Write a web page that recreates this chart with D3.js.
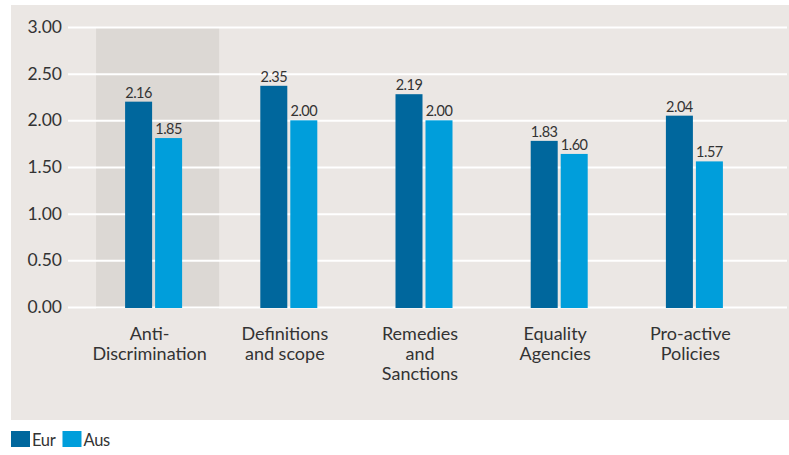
<!DOCTYPE html>
<html>
<head>
<meta charset="utf-8">
<script src="https://cdn.jsdelivr.net/npm/d3@7"></script>
<style>
  body { margin: 0; background: #fff; }
  svg text { font-family: Lato, "Noto Sans", sans-serif; fill: #333; }
</style>
</head>
<body>
<script>
// size variables
var width = 789, height = 455;

// data
var categories = [["Anti-", "Discrimination"], ["Definitions", "and scope"], ["Remedies", "and", "Sanctions"], ["Equality", "Agencies"], ["Pro-active", "Policies"]];
var series = ["Eur", "Aus"];
var eurLabels = ["2.16", "2.35", "2.19", "1.83", "2.04"];   // printed values
var ausLabels = ["1.85", "2.00", "2.00", "1.60", "1.57"];
var eurBars = [2.20, 2.37, 2.28, 1.78, 2.05];                // bar heights as drawn
var ausBars = [1.81, 2.00, 2.00, 1.64, 1.56];
var yTicks = [0, 0.5, 1, 1.5, 2, 2.5, 3];

var cols = { Eur: "#00679d", Aus: "#009edb" };

var svg = d3.select("body").append("svg").attr("width", width).attr("height", height);

// grey panel behind the chart
svg.append("rect").attr("x", 11).attr("y", 5).attr("width", 778).attr("height", 415).attr("fill", "#ebe7e4");

// scales
var y = d3.scaleLinear().domain([0, 3]).range([307, 27]);
var x0 = d3.scaleBand().domain(d3.range(categories.length)).range([86, 762]).paddingInner(0.09).paddingOuter(0.045);
var x1 = d3.scaleBand().domain(series).range([-28.5, 28.5]).paddingInner(0.1);

// highlight first category
svg.append("rect")
    .attr("x", x0(0) + 4)
    .attr("y", y(3) + 1)
    .attr("width", x0.bandwidth())
    .attr("height", y(0) - y(3) + 1)
    .attr("fill", "#dcd8d4");

// y axis with grid lines
var yAxis = svg.append("g")
    .attr("transform", "translate(68,0)")
    .call(d3.axisLeft(y).tickValues(yTicks).tickFormat(d3.format(".2f")).tickSize(-(787 - 68)).tickPadding(6));
yAxis.select(".domain").remove();
yAxis.selectAll(".tick line").attr("stroke", "#fff").attr("stroke-width", 2);
yAxis.selectAll(".tick text").attr("font-size", "17.5px").attr("fill", "#333").attr("font-family", "Lato, sans-serif");

// bars
var rows = categories.map(function(c, i) {
    return [
        { key: "Eur", i: i, val: eurBars[i], label: eurLabels[i] },
        { key: "Aus", i: i, val: ausBars[i], label: ausLabels[i] }
    ];
});

var groups = svg.selectAll(".grp").data(rows).join("g")
    .attr("class", "grp")
    .attr("transform", function(d, i) { return "translate(" + (x0(i) + x0.bandwidth() / 2) + ",0)"; });

groups.selectAll("rect").data(function(d) { return d; }).join("rect")
    .attr("x", function(d) { return x1(d.key); })
    .attr("y", function(d) { return y(d.val); })
    .attr("width", x1.bandwidth())
    .attr("height", function(d) { return y(0) - y(d.val) + 1; })
    .attr("fill", function(d) { return cols[d.key]; });

groups.selectAll("text.val").data(function(d) { return d; }).join("text")
    .attr("class", "val")
    .attr("x", function(d) { return x1(d.key) + x1.bandwidth() / 2; })
    .attr("y", function(d) { return y(d.val) - 4; })
    .attr("text-anchor", "middle")
    .attr("font-size", "14.5px")
    .attr("letter-spacing", "-0.5px")
    .text(function(d) { return d.label; });

// category labels
categories.forEach(function(lines, i) {
    var cx = x0(i) + x0.bandwidth() / 2 - 4;
    var t = svg.append("text")
        .attr("text-anchor", "middle")
        .attr("font-size", "18px")
        .attr("x", cx)
        .attr("y", 340);
    lines.forEach(function(l, j) {
        t.append("tspan").attr("x", cx).attr("y", 340 + j * 20).text(l);
    });
});

// legend
var lx = 11;
series.forEach(function(s) {
    svg.append("rect").attr("x", lx).attr("y", 431).attr("width", 19).attr("height", 16).attr("fill", cols[s]);
    var t = svg.append("text").attr("x", lx + 21).attr("y", 446).attr("font-size", "16.5px").attr("letter-spacing", "-0.3px").text(s);
    lx = lx + 21 + t.node().getComputedTextLength() + 7;
});
</script>
</body>
</html>
